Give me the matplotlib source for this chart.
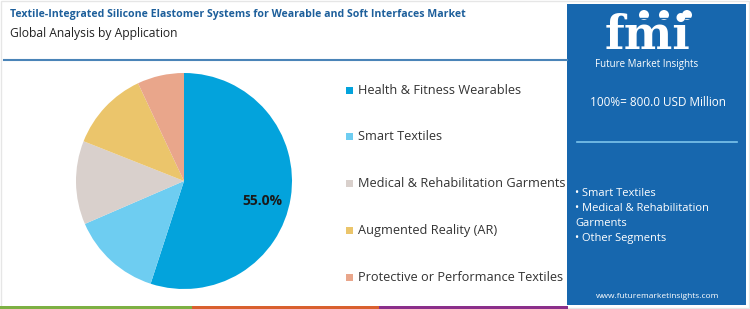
import matplotlib
matplotlib.use("Agg")
import matplotlib.pyplot as plt
import numpy as np
from matplotlib.patches import Rectangle, Circle

W, H = 750, 309

categories = ["Health & Fitness Wearables", "Smart Textiles",
              "Medical & Rehabilitation Garments", "Augmented Reality (AR)",
              "Protective or Performance Textiles"]
shares = [55.0, 13.5, 12.5, 12.0, 7.0]
colors = ["#03a3dc", "#6ecdf1", "#d9d0cc", "#ebc56b", "#e9a68b"]

title = "Textile-Integrated Silicone Elastomer Systems for Wearable and Soft Interfaces Market"
subtitle = "Global Analysis by Application"
total_text = "100%= 800.0 USD Million"
other_segments = ["• Smart Textiles", "• Medical & Rehabilitation", "Garments", "• Other Segments"]
website = "www.futuremarketinsights.com"

FONT = ["Open Sans", "DejaVu Sans"]
plt.rcParams['font.family'] = FONT

fig = plt.figure(figsize=(W / 100, H / 100), dpi=100)
fig.patch.set_facecolor("white")

def fx(x):
    return x / W

def fy(y):
    return 1 - y / H

# background/frame
bg = fig.add_axes([0, 0, 1, 1])
bg.set_xlim(0, W)
bg.set_ylim(H, 0)
bg.axis("off")
bg.add_patch(Rectangle((1, 1), W - 2, H - 2, fill=False, ec="#e6e6e6", lw=1))
# separator line under titles
bg.plot([4, 567], [60, 60], color="#4a84b8", lw=1.5)
# bottom colour strip
bg.add_patch(Rectangle((0, 305.5), 192, 3.5, color="#7db043", lw=0))
bg.add_patch(Rectangle((192, 305.5), 187, 3.5, color="#d9602f", lw=0))
bg.add_patch(Rectangle((379, 305.5), 189, 3.5, color="#8b2f8a", lw=0))
# right panel
bg.add_patch(Rectangle((567, 4), 179, 301, color="#1767ae", lw=0))
bg.plot([577, 737], [142, 142], color="#7cc4ec", lw=1.2)

# logo
bg.text(648, 49, "fmi", color="white", fontsize=33, fontweight="bold",
        family=["DejaVu Serif"], ha="center", va="baseline")
for yy in range(18, 52, 4):
    bg.plot([596, 700], [yy, yy], color="#1767ae", lw=1.0)
for cx in (644, 664, 687):
    bg.add_patch(Circle((cx, 15), 5.0, color="white", lw=0))
bg.text(647, 64, "Future Market Insights", color="white", fontsize=7.0,
        ha="center", va="center")

# titles
fig.text(fx(10), fy(15), title, color="#1d5f9b", fontsize=7.6, fontweight="bold",
         ha="left", va="center")
fig.text(fx(10), fy(34), subtitle, color="#222222", fontsize=8.7,
         ha="left", va="center")

# panel texts
fig.text(fx(658), fy(103), total_text, color="white", fontsize=8.5,
         ha="center", va="center")
for i, line in enumerate(other_segments):
    fig.text(fx(575), fy(193 + i * 15.3), line, color="white", fontsize=8.0,
             ha="left", va="center")
fig.text(fx(658), fy(296), website, color="white", fontsize=6,
         ha="center", va="center")

# pie
cx, cy, r = 184, 181, 108
ax = fig.add_axes([fx(cx - r), fy(cy + r), 2 * r / W, 2 * r / H])
wedges, texts, autotexts = ax.pie(
    shares, colors=colors, startangle=90, counterclock=False,
    autopct=lambda p: f"{p:.1f}%" if p > 50 else "", pctdistance=0.75,
    wedgeprops=dict(linewidth=0))
for w, t in zip(wedges, autotexts):
    t.set_fontsize(10)
    t.set_fontweight("bold")
    t.set_color("#1a1a1a")
    ang = np.deg2rad((w.theta1 + w.theta2) / 2 - 5)
    t.set_position((0.75 * np.cos(ang), 0.75 * np.sin(ang)))
ax.set_xlim(-1, 1)
ax.set_ylim(-1, 1)
ax.set_aspect("equal")
ax.axis("off")

# legend
for i, (cat, col) in enumerate(zip(categories, colors)):
    y = 90 + i * 46.8
    bg.add_patch(Rectangle((346, y - 3.5), 7, 7, color=col, lw=0))
    fig.text(fx(358), fy(y), cat, color="#333333", fontsize=9.2,
             ha="left", va="center")

fig.savefig("out.png", dpi=100)
